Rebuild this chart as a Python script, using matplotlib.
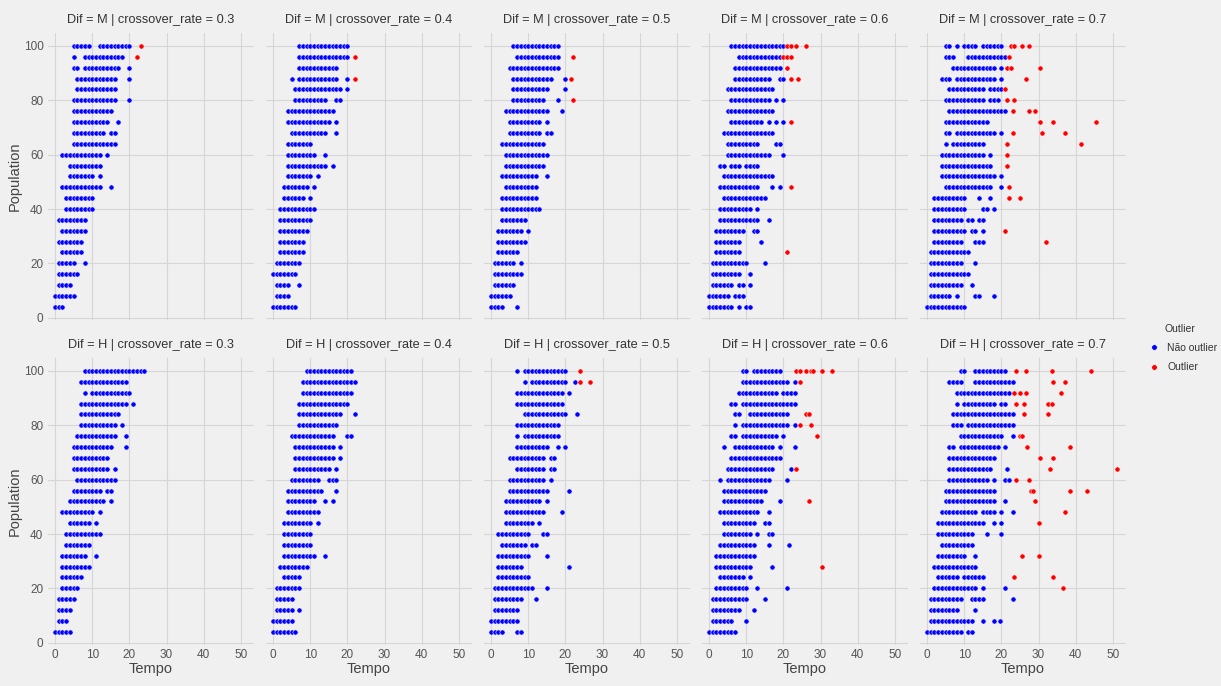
"""
Tempo x Population por Dif e crossover_rate.
Scatter em grade (2 x 5), pontos coloridos por outlier.
"""

# === Imports ===
import matplotlib
matplotlib.use("Agg")
import matplotlib.pyplot as plt
import pandas as pd
from matplotlib.lines import Line2D

plt.rcParams['font.family'] = ['Liberation Sans', 'DejaVu Sans']

# === Dados ===
# Cada linha: valores de Tempo para uma população (100 -> 4).
# Antes do ';' pontos normais, depois do ';' outliers.
POPULATION = [100, 96, 92, 88, 84, 80, 76, 72, 68, 64, 60, 56, 52,
              48, 44, 40, 36, 32, 28, 24, 20, 16, 12, 8, 4]
DIFS = ['M', 'H']
CROSSOVER_RATES = [0.3, 0.4, 0.5, 0.6, 0.7]

tempo_M_03 = [
    "5 6 7 8 9 12 13 14 15 16 17 18 19 20 ; 23",
    "5 8 9 10 11 12 13 14 15 16 17 18 ; 22",
    "5 6 8 9 10 11 12 13 14 15 16 17 20",
    "6 7 8 9 10 11 12 13 14 15 16 20",
    "6 7 8 9 10 11 12 13 14 15 16",
    "5 6 7 8 9 10 11 12 13 14 15 16 20",
    "5 6 7 8 9 10 11 12 13 14 15",
    "5 6 7 8 9 10 11 12 13 14 17",
    "5 6 7 8 9 10 11 12 13 15 16",
    "5 6 7 8 9 10 11 12 13 14 15 16",
    "2 3 4 5 6 7 8 9 10 11 12 14",
    "4 5 6 7 8 9 10 11 12",
    "4 5 6 7 8 9 10 12",
    "2 3 4 5 6 7 8 9 10 11 12 15",
    "3 4 5 6 7 8 9 10",
    "3 4 5 6 7 8 9 10",
    "1 2 3 4 5 6 7 8",
    "2 3 4 5 6 7 8",
    "1 2 3 4 5 6 7",
    "2 3 4 5 6 7",
    "1 2 3 4 5 8",
    "1 2 3 4 5 6",
    "1 2 3 4",
    "0 1 2 3 4 5",
    "0 1 2",
]

tempo_M_04 = [
    "7 8 9 10 11 12 13 14 15 16 17 18 19 20",
    "7 8 9 10 11 12 13 14 15 16 17 18 19 20 ; 22",
    "7 8 9 10 11 12 13 14 15 16 17",
    "5 7 8 9 10 11 12 13 14 15 16 17 20 ; 22",
    "6 7 8 9 10 11 12 13 14 15 16 17 18 20",
    "6 7 8 9 10 11 12 13 14 17 18",
    "4 5 6 7 8 9 10 11 12 13 14 15 16",
    "4 5 6 7 8 9 10 11 12 13 14 15 17",
    "5 6 7 8 9 10 11 12 13 14 17",
    "4 5 6 7 8 9 10",
    "4 5 6 7 8 9 10 11 14",
    "4 5 6 7 8 9 10 11 12 13 14 16",
    "4 5 6 7 8 9 10 12",
    "3 4 5 6 7 8 9 11",
    "3 4 5 6 7 8 10",
    "2 3 4 5 6 7 8 9 10 11",
    "2 3 4 5 6 7 8 9 10",
    "2 3 4 5 6 7 8 9",
    "2 3 4 5 6 7 8",
    "2 3 4 5 6 7 8",
    "1 2 3 4 5 6 7",
    "0 1 2 3 4 5 6",
    "1 2 3 4 7",
    "1 2 3 4",
    "0 1 2 3 4 5 6",
]

tempo_M_05 = [
    "6 7 8 9 10 11 12 13 14 15 16 17 18",
    "7 8 9 10 11 12 13 14 15 16 17 18 ; 22",
    "5 6 7 8 9 10 11 12 13 14 15 16 17 18",
    "6 7 8 9 10 11 12 13 14 15 16 20 ; 21.5",
    "6 7 8 9 10 11 12 13 14 15 20",
    "6 7 8 9 10 11 12 13 14 18 ; 22",
    "4 5 6 7 8 9 10 11 12 13 14 15 19",
    "5 6 7 8 9 10 11 12 13 15",
    "5 6 7 8 9 10 11 12 13 15 16",
    "3 4 5 6 7 8 9 10 11 12 13 14",
    "4 5 6 7 8 9 10 11 12 13 14 15",
    "4 5 6 7 8 9 10 11 12 13 14",
    "3 4 5 6 7 8 9 10 11 12 15",
    "4 5 6 7 8 9 10 11 12",
    "3 4 5 6 7 8 9 10 11 12",
    "3 4 5 6 7 8 9 10 11 12 13",
    "3 4 5 6 7 8 9",
    "2 3 4 5 6 7 8 10",
    "2 3 4 5 6 7 8 9",
    "2 3 4 5 6 7",
    "1 2 3 4 5 6 8",
    "1 2 3 4 5 6 7 8",
    "1 2 3 4 5 6",
    "0 1 2 3 4 5",
    "0 1 2 3 7",
]

tempo_M_06 = [
    "6 7 8 9 10 11 12 13 14 15 16 17 18 19 20 ; 21 22 23.5 26",
    "8 9 10 11 12 13 14 15 16 17 18 19 ; 20 21 22",
    "7 8 9 10 11 12 13 14 15 16 17 18 19 ; 21",
    "7 8 9 10 11 12 13 14 15 16 19 20 ; 22 24",
    "5 6 7 8 9 10 11 12 13 14 15 16 17",
    "6 7 8 9 10 11 12 13 14 15 16 18 20",
    "5 6 7 8 9 10 11 12 13 14 15 16 17",
    "6 7 8 9 10 11 12 13 14 16 18 20 ; 22",
    "4 5 6 7 8 9 10 11 12 13 14 15 16 17",
    "5 6 7 8 9 10 11 12 13 18 19",
    "5 6 7 8 9 10 11 12 13 14 15 16 20",
    "3 4 6 7 8 10 11 12 13",
    "4 5 6 7 8 9 10 11 12 13 14 15 16 17",
    "3 4 5 6 7 8 9 10 11 12 13 17 19 ; 22",
    "4 5 6 7 8 9 10 11 12 13 14 15",
    "3 4 5 6 7 8 9 10 11 13",
    "3 4 5 6 7 8 9 10 11 12 13 16",
    "2 3 4 5 6 7 8 9 12 13",
    "2 3 4 5 6 7 8 14",
    "2 3 4 5 6 7 8 ; 21",
    "1 2 3 4 5 6 7 8 9 10 15",
    "1 2 3 4 5 6 7 8 11",
    "1 2 3 4 5 6 8 9 11",
    "0 1 2 3 4 5 7 8 9",
    "0 1 2 3 4 5 6 8 10 11",
]

tempo_M_07 = [
    "5 6 8 10 11 12 13 15 16 17 18 19 20 ; 22.5 23.5 25.5 27.5",
    "5 6 7 11 12 13 14 15 16 17 18 19 20 21 ; 22",
    "7 8 9 10 11 12 13 14 15 16 17 18 20 ; 21.5 22.5 30.5",
    "4 5 6 8 9 10 11 12 13 14 15 16 17 18 20 ; 26.5",
    "6 7 8 9 10 11 12 13 14 15 17 18 19 20 ; 21",
    "5 6 7 8 9 10 11 12 13 14 15 17 18 19 ; 21.5 23.5",
    "6 7 8 9 10 11 12 13 14 15 16 17 18 19 20 21 ; 23 27.5 29",
    "5 6 7 8 9 10 11 12 13 14 15 16 ; 30.5 34 45.5",
    "5 6 8 9 10 11 12 13 14 15 16 17 18 20 ; 23 31 37",
    "5 7 8 9 10 11 12 13 14 15 ; 21.5 41.5",
    "4 5 6 7 8 9 10 11 12 13 14 15 17 ; 21.5",
    "4 5 6 7 8 9 10 11 12 13 14 15 16 17 ; 21.5",
    "4 5 6 7 8 9 10 11 12 13 14 15 16 17 18 20",
    "5 6 7 8 9 10 11 12 13 14 15 16 17 20 ; 22",
    "2 3 4 5 6 7 8 9 10 14 17 ; 22 25",
    "2 3 4 5 6 7 8 9 10 15 16 18",
    "2 3 4 5 6 7 8 9 11 12 14 15",
    "2 3 4 5 6 7 8 9 10 12 13 15 ; 21",
    "2 3 4 5 6 7 8 9 13 14 15 ; 32",
    "1 2 3 4 5 6 7 8 9 10 11",
    "1 2 3 4 5 6 7 8 9 13",
    "1 2 3 4 5 6 7 8 9 10 11",
    "1 2 3 4 5 6 7 8 9 12",
    "1 2 3 4 5 6 8 13 14 18",
    "0 1 2 3 4 5 6 7 8 9 10",
]

tempo_H_03 = [
    "8 9 10 11 12 13 14 15 16 17 18 19 20 21 22 23 24",
    "7 8 9 10 11 12 13 14 15 16 17 18 19",
    "8 10 11 12 13 14 15 16 17 18 19 20",
    "7 8 9 10 11 12 13 14 15 16 17 18 19 21",
    "7 8 9 10 11 12 13 14 15 16 17",
    "7 8 9 10 11 12 13 14 15 16 18",
    "6 7 8 9 10 11 12 13 14 15 16 19",
    "5 6 7 8 9 10 11 12 13 14 15 19",
    "5 6 7 8 9 10 11 12 13 14",
    "5 6 7 8 9 10 11 12 13 14 16",
    "6 7 8 9 10 11 12 13 14 15 16",
    "5 6 7 8 9 10 11 12 14 15",
    "4 5 6 7 8 9 10 11 12 13 15",
    "2 3 4 5 6 7 8 9 10 12",
    "4 5 6 7 8 9 11",
    "3 4 5 6 7 8 9 10 11 12",
    "3 4 5 6 7 8 9",
    "2 3 4 5 6 7 8 11",
    "2 3 4 5 6 7 8 9",
    "2 3 4 5 6 7",
    "2 3 4 5 6",
    "1 2 3 4 5",
    "1 2 3 4",
    "1 2 3",
    "0 1 2 3 4",
]

tempo_H_04 = [
    "9 10 11 12 13 14 15 16 17 18 19 20 21",
    "8 9 10 11 12 13 14 15 16 17 18 19 20 21 22",
    "8 9 10 11 12 13 14 15 16 17 18 19 20 21",
    "7 8 9 10 11 12 13 14 15 16 17 18 19 20",
    "7 8 9 10 11 12 13 14 15 16 17 18 22",
    "7 8 9 10 11 12 13 14 15 16 17",
    "5 6 7 8 9 10 11 12 13 14 15 16 20 21",
    "6 7 8 9 10 11 12 13 14 15 16 18",
    "6 7 8 9 10 11 12 13 14 15 16 18",
    "6 7 8 9 10 11 12 13 14 15 17",
    "5 6 7 8 9 10 11 12 15 16 17",
    "4 5 6 7 8 9 10 11 12 13 17",
    "4 5 6 7 8 9 10 11 14 16",
    "4 5 6 7 8 9 10 11 12",
    "3 4 5 6 7 8 9 10 12",
    "3 4 5 6 7 8 9 10",
    "3 4 5 6 7 8 9 10",
    "3 4 5 6 7 8 9 10 11 14",
    "2 3 4 5 6 7 8 9",
    "3 4 5 6 7",
    "1 2 3 4 5 6 7",
    "1 2 3 4 5",
    "1 2 3 4 5 7",
    "0 1 2 3 4 5",
    "0 1 2 3 4 5 6",
]

tempo_H_05 = [
    "7 9 10 11 12 13 14 15 16 17 18 19 20 ; 24",
    "9 11 12 13 14 15 16 17 18 19 20 22.5 ; 24 26.5",
    "7 8 9 10 11 12 13 14 15 16 17 18 19 21",
    "7 8 9 10 11 12 13 14 15 16 17 18 19",
    "9 10 11 12 13 14 15 16 17 18 19 20 23",
    "7 8 9 10 11 12 13 14 15 16 17 18",
    "7 9 10 11 12 13 14 15 16 17 18",
    "7 8 9 10 11 12 13 14 15 18 20",
    "5 6 7 8 9 10 11 12 13 14 16 17",
    "7 8 9 10 11 12 13 14 16 17",
    "5 6 7 8 9 10 11 12 13 14 16",
    "5 6 7 8 9 10 11 12 13 14 15 21",
    "4 5 6 7 8 9 10 11 12 13 15",
    "4 5 6 7 8 9 10 11 12 13 14 19",
    "4 5 6 7 8 9 10 11 13",
    "2 3 4 5 6 7 8 9 10 14 15",
    "3 4 5 6 7 8 9 11 12",
    "2 3 4 5 6 7 8 9 10 15",
    "2 3 4 5 6 7 8 21",
    "2 3 4 5 6 7 8 9 10",
    "1 2 3 4 5 6 7 8 9 10 11 15",
    "1 2 3 4 5 6 7 8 12",
    "1 2 3 4 5 6 7",
    "0 1 2 3 4 5 6 7",
    "0 1 2 3 7 8",
]

tempo_H_06 = [
    "9 10 12 13 14 15 16 17 18 19 ; 23.5 24.5 26 27.5 28 30.5 33",
    "9 10 11 12 13 14 15 16 17 18 19 20 21 23 ; 24.5",
    "8 9 10 11 12 13 14 15 16 17 18 20 21 22 23",
    "6 7 9 10 11 12 13 14 15 16 17 18 19 20 21 22 23",
    "7 8 11 12 13 14 15 16 17 18 19 20 21 ; 26 27",
    "7 9 10 11 12 13 14 15 16 17 18 19 20 21 23 ; 24.5 27.5",
    "6 7 9 10 11 12 13 14 15 16 17 18 20 ; 29",
    "4 7 8 9 10 11 12 13 14 15 16 17 19 23",
    "6 7 8 9 10 11 12 13 14 15 16 17 18 19",
    "5 6 7 8 9 10 11 12 13 14 15 16 17 22 ; 23.5",
    "3 5 6 7 8 9 10 11 12 13 14 15 16 21",
    "4 5 6 7 8 9 10 11 12 13 14 15",
    "4 5 6 7 8 9 10 11 12 13 14 19 ; 27",
    "3 4 5 6 7 8 9 10 11 12 13 16",
    "4 5 6 7 8 9 10 11 12 15 16",
    "4 5 6 7 8 9 10 11 13 16 17",
    "3 4 5 6 7 8 9 10 11 12 16 21.5",
    "2 3 4 5 6 7 8 9 10 11 12",
    "2 3 4 5 6 7 8 9 10 11 17 ; 30.5",
    "3 4 5 6 7 8 9 11",
    "2 3 4 5 6 7 8 9 10 13 21",
    "1 2 3 4 5 6 7 8 9 10 15",
    "1 2 3 4 5 6 7 8 12",
    "1 2 3 4 5 6 10",
    "0 1 2 3 4 5 6 7",
]

tempo_H_07 = [
    "9 10 13 14 15 16 17 18 19 20 21 ; 24 26.5 33.5 44",
    "6 7 8 9 13 14 15 16 17 18 19 20 21 22 23 ; 34 37",
    "8 9 10 11 12 13 14 15 16 17 18 19 20 21 22 ; 23.5 25 26.5 36",
    "8 10 11 12 13 14 15 16 17 18 20 21 ; 24 26 32.5 33.5",
    "7 8 9 10 11 12 13 14 15 16 17 18 19 20 21 22 23 ; 26 32.5",
    "7 8 9 11 12 13 14 15 16 17 18 19 20 21 22 23",
    "9 10 11 12 13 14 15 16 17 18 19 20 23 ; 25 25.5",
    "6 7 9 10 11 12 13 14 15 16 17 18 19 21 ; 27 38.5",
    "6 7 8 9 10 11 12 13 14 15 16 17 18 ; 30.5 34",
    "6 7 8 9 10 11 12 13 14 15 16 17 21.5 ; 33 51",
    "6 7 8 9 10 11 12 13 14 15 16 18 21 22 ; 24 27.5",
    "5 6 7 8 9 10 11 12 13 14 15 16 17 18 ; 28 28.5 38.5 43",
    "5 6 7 8 9 10 11 12 13 14 15 16 17 18 21 ; 29",
    "4 5 6 7 8 9 10 11 12 13 15 16 17 18 20 23 ; 37",
    "3 4 5 6 7 8 9 10 11 12 13 14 15 18 20 ; 30",
    "3 4 5 6 7 8 9 10 11 12 16 20",
    "4 5 6 7 8 9 10 11 12",
    "3 4 5 6 7 8 9 10 13 ; 25.5 30",
    "2 3 4 5 6 7 8 9 10 11 12 13",
    "3 4 5 6 7 8 10 11 12 13 14 15 ; 23.5 34",
    "2 3 4 5 6 7 8 9 10 11 12 13 15 21 ; 36.5",
    "1 2 3 4 5 6 7 8 9 12 13 14 15 23",
    "1 2 3 4 5 6 7 8 13",
    "1 2 3 4 5 6 7 8 9 10 11 12 15 18 19.5",
    "0 1 2 3 4 5 6 7 8 9 11 12",
]

PAINEIS = {
    ('M', 0.3): tempo_M_03, ('M', 0.4): tempo_M_04, ('M', 0.5): tempo_M_05,
    ('M', 0.6): tempo_M_06, ('M', 0.7): tempo_M_07,
    ('H', 0.3): tempo_H_03, ('H', 0.4): tempo_H_04, ('H', 0.5): tempo_H_05,
    ('H', 0.6): tempo_H_06, ('H', 0.7): tempo_H_07,
}

CORES = {'Não outlier': 'blue', 'Outlier': 'red'}


# === Funções ===

def linhas_para_df(linhas, dif, rate):
    """
    Converte as linhas de texto em DataFrame (Tempo, Population, Outlier).
    """
    registros = []
    for pop, linha in zip(POPULATION, linhas):
        normal, _, outlier = linha.partition(';')
        for v in normal.split():
            registros.append((dif, rate, pop, float(v), 'Não outlier'))
        for v in outlier.split():
            registros.append((dif, rate, pop, float(v), 'Outlier'))
    return pd.DataFrame(registros,
                        columns=['Dif', 'crossover_rate', 'Population', 'Tempo', 'Outlier'])


def plot_grade(df):
    fig = plt.figure(figsize=(12.21, 6.86), dpi=100, facecolor='#f0f0f0')
    W, H = 1221.0, 686.0
    largura = 206.0
    altura = 287.0
    bases = [319.9, 644.9]   # borda inferior de cada linha (px a partir do topo)

    for r, dif in enumerate(DIFS):
        for c, rate in enumerate(CROSSOVER_RATES):
            esq = 47.6 + 218.0 * c
            ax = fig.add_axes([esq / W, (H - bases[r]) / H, largura / W, altura / H])
            ax.set_facecolor('#f0f0f0')
            sub = df[(df['Dif'] == dif) & (df['crossover_rate'] == rate)]
            for classe in ['Não outlier', 'Outlier']:
                s = sub[sub['Outlier'] == classe]
                ax.scatter(s['Tempo'], s['Population'], s=14, c=CORES[classe],
                           edgecolors='white', linewidths=0.4, zorder=3)
            ax.set_xlim(-2.0, 53.4)
            ax.set_ylim(-0.8, 104.8)
            ax.set_xticks([0, 10, 20, 30, 40, 50])
            ax.set_yticks([0, 20, 40, 60, 80, 100])
            ax.grid(True, color='#d6d6d6', linewidth=0.8, zorder=0)
            for sp in ax.spines.values():
                sp.set_visible(False)
            ax.tick_params(length=0, labelsize=8.5, colors='#555555', pad=3)
            if c != 0:
                ax.tick_params(labelleft=False)
            else:
                ax.set_ylabel('Population', fontsize=10.5, color='#444444', labelpad=1)
            if r != 1:
                ax.tick_params(labelbottom=False)
            else:
                ax.set_xlabel('Tempo', fontsize=10.5, color='#444444', labelpad=1)
            ax.set_title(f"Dif = {dif} | crossover_rate = {rate}",
                         fontsize=9.2, color='#333333', pad=7)

    # === Legenda ===
    handles = [Line2D([], [], marker='o', linestyle='', markersize=4,
                      markerfacecolor=CORES[k], markeredgecolor='white',
                      markeredgewidth=0.4, label=k) for k in CORES]
    leg = fig.legend(handles=handles, title='Outlier', loc='center left',
                     bbox_to_anchor=(1136 / W, 1 - 348 / H), frameon=False,
                     fontsize=7.5, title_fontsize=7.5, handletextpad=0.3,
                     labelspacing=0.9, borderpad=0.2)
    for t in leg.get_texts():
        t.set_color('#333333')
    leg.get_title().set_color('#333333')

    fig.savefig('out.png', dpi=100, facecolor=fig.get_facecolor())
    plt.close(fig)


# === Main ===
def main():
    frames = [linhas_para_df(linhas, dif, rate) for (dif, rate), linhas in PAINEIS.items()]
    df = pd.concat(frames, ignore_index=True)
    plot_grade(df)


if __name__ == "__main__":
    main()
